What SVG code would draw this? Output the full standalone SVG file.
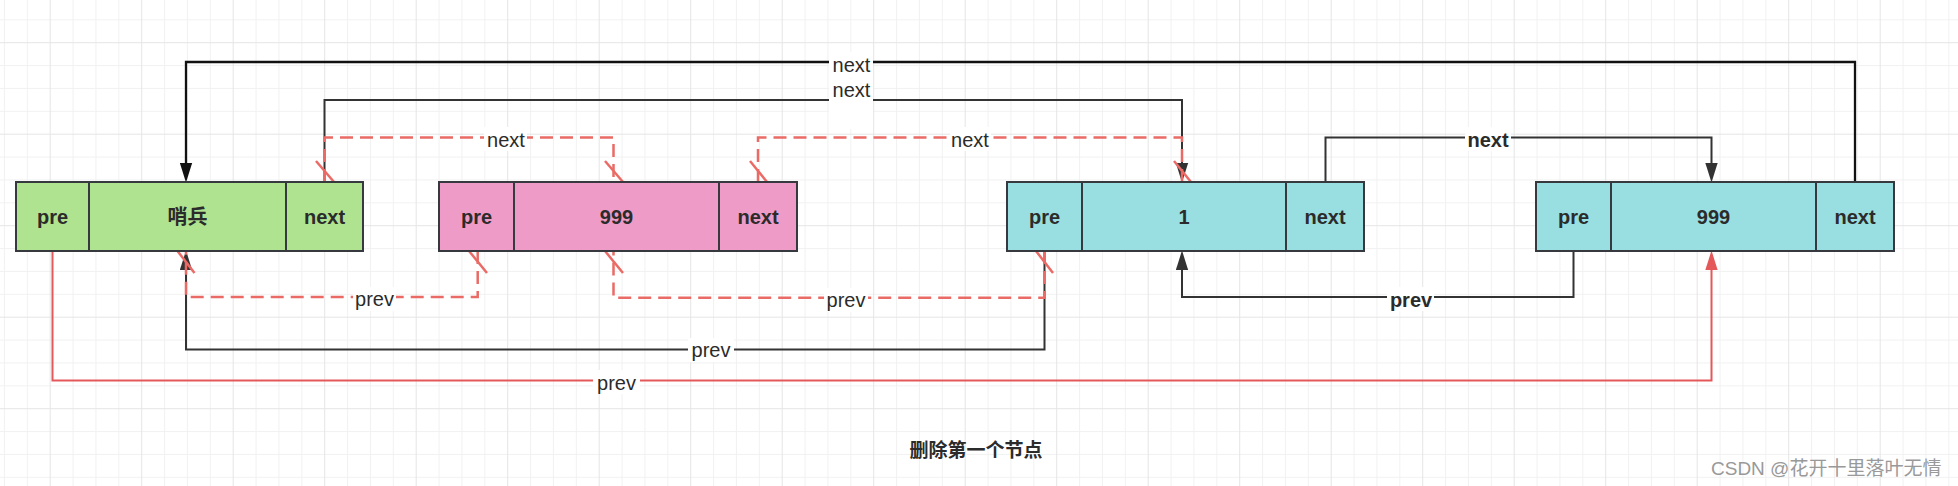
<svg xmlns="http://www.w3.org/2000/svg" width="1958" height="486" viewBox="0 0 1958 486">
<defs>
<pattern id="grid" x="49.7" y="42.2" width="91.5" height="91.5" patternUnits="userSpaceOnUse">
<path d="M23.375,0 V91.5 M46.25,0 V91.5 M69.125,0 V91.5 M0,23.375 H91.5 M0,46.25 H91.5 M0,69.125 H91.5" stroke="#f1f1f1" stroke-width="1" fill="none"/>
<path d="M0.5,0 V91.5 M0,0.5 H91.5" stroke="#e5e5e5" stroke-width="1" fill="none"/>
</pattern>
<marker id="arrDark" markerUnits="userSpaceOnUse" markerWidth="20" markerHeight="13" viewBox="0 0 19 12" refX="9" refY="6" orient="auto">
<path d="M0,0 L19,6 L0,12 Z" fill="#333"/>
</marker>
<marker id="arrBlack" markerUnits="userSpaceOnUse" markerWidth="20" markerHeight="13" viewBox="0 0 19 12" refX="9" refY="6" orient="auto">
<path d="M0,0 L19,6 L0,12 Z" fill="#111"/>
</marker>
<marker id="arrRed" markerUnits="userSpaceOnUse" markerWidth="20" markerHeight="13" viewBox="0 0 19 12" refX="9" refY="6" orient="auto">
<path d="M0,0 L19,6 L0,12 Z" fill="#e5585a"/>
</marker>
</defs>
<style>
.cell{stroke:#36393d;stroke-width:2}
.g{fill:#b0e38f}
.p{fill:#ef9bc8}
.c{fill:#99dfe1}
.bt{font-family:"Liberation Sans","Noto Sans CJK SC",sans-serif;font-size:20px;font-weight:bold;fill:#2b2b2b;text-anchor:middle}
.el{font-family:"Liberation Sans","Noto Sans CJK SC",sans-serif;font-size:20px;fill:#2b2b2b;text-anchor:middle}
.elb{font-weight:bold}
.lbg{fill:#fff}
.dark{fill:none;stroke:#333;stroke-width:2}
.black{fill:none;stroke:#111;stroke-width:2.3}
.redd{fill:none;stroke:#ea6b66;stroke-width:2.5;stroke-dasharray:13 7}
.reds{fill:none;stroke:#e5585a;stroke-width:2}
.slash{stroke:#ea6b66;stroke-width:2.5}
</style>
<rect width="1958" height="486" fill="#fff"/>
<rect width="1958" height="486" fill="url(#grid)"/>

<g id="connectors">
<path class="black" d="M1855,182 V62 H186 V172" marker-end="url(#arrBlack)"/>
<path class="dark" d="M324.5,182 V100 H1182 V172" marker-end="url(#arrDark)"/>
<path class="dark" d="M1325.5,182 V137.5 H1711.5 V172" marker-end="url(#arrDark)"/>
<path class="dark" d="M1044.5,251 V349.5 H186 V261" marker-end="url(#arrDark)"/>
<path class="dark" d="M1573.5,251 V297 H1182 V261" marker-end="url(#arrDark)"/>
<path class="reds" d="M52.5,251 V380.5 H1711.5 V261" marker-end="url(#arrRed)"/>
<path class="redd" d="M324.5,182 V137.5 H613.5 V182"/>
<path class="redd" d="M758,182 V137.5 H1182 V182"/>
<path class="redd" d="M477.7,251 V297 H186 V251"/>
<path class="redd" d="M1044.5,251 V297.7 H613.5 V251"/>
<g class="slash">
<line x1="316" y1="161" x2="334" y2="182"/>
<line x1="605" y1="161" x2="623" y2="182"/>
<line x1="750" y1="161" x2="767" y2="182"/>
<line x1="1174" y1="161" x2="1191" y2="182"/>
<line x1="469" y1="251" x2="487" y2="273"/>
<line x1="177.5" y1="251" x2="194.5" y2="273"/>
<line x1="1036" y1="251" x2="1053" y2="273"/>
<line x1="605" y1="251" x2="623" y2="273"/>
</g>
<rect class="lbg" x="829" y="52" width="44" height="26"/>
<text class="el" x="851.5" y="71.5">next</text>
<rect class="lbg" x="829" y="79" width="44" height="50"/>
<text class="el" x="851.5" y="96.5">next</text>
<rect class="lbg" x="484" y="127" width="43" height="24"/>
<text class="el" x="506" y="146.5">next</text>
<rect class="lbg" x="950" y="127" width="41" height="24"/>
<text class="el" x="970" y="146.5">next</text>
<rect class="lbg" x="1465" y="127" width="46" height="24"/>
<text class="el elb" x="1488" y="146.5">next</text>
<rect class="lbg" x="353" y="287" width="43" height="24"/>
<text class="el" x="374.5" y="305.5">prev</text>
<rect class="lbg" x="824" y="288" width="44" height="24"/>
<text class="el" x="846" y="306.5">prev</text>
<rect class="lbg" x="688" y="338" width="46" height="24"/>
<text class="el" x="711" y="356.5">prev</text>
<rect class="lbg" x="1387" y="287" width="47" height="24"/>
<text class="el elb" x="1411" y="306.5">prev</text>
<rect class="lbg" x="593" y="370" width="47" height="24"/>
<text class="el" x="616.5" y="389.5">prev</text>
</g>

<g id="node-sentinel">
<rect class="cell g" x="16" y="182" width="73" height="69"/>
<rect class="cell g" x="89" y="182" width="197" height="69"/>
<rect class="cell g" x="286" y="182" width="77" height="69"/>
<text class="bt" x="52.5" y="224">pre</text>
<text class="bt" x="187.5" y="224">哨兵</text>
<text class="bt" x="324.5" y="224">next</text>
</g>

<g id="node-999-removed">
<rect class="cell p" x="439" y="182" width="75" height="69"/>
<rect class="cell p" x="514" y="182" width="205" height="69"/>
<rect class="cell p" x="719" y="182" width="78" height="69"/>
<text class="bt" x="476.5" y="224">pre</text>
<text class="bt" x="616.5" y="224">999</text>
<text class="bt" x="758" y="224">next</text>
</g>

<g id="node-1">
<rect class="cell c" x="1007" y="182" width="75" height="69"/>
<rect class="cell c" x="1082" y="182" width="204" height="69"/>
<rect class="cell c" x="1286" y="182" width="78" height="69"/>
<text class="bt" x="1044.5" y="224">pre</text>
<text class="bt" x="1184" y="224">1</text>
<text class="bt" x="1325" y="224">next</text>
</g>

<g id="node-999">
<rect class="cell c" x="1536" y="182" width="75" height="69"/>
<rect class="cell c" x="1611" y="182" width="205" height="69"/>
<rect class="cell c" x="1816" y="182" width="78" height="69"/>
<text class="bt" x="1573.5" y="224">pre</text>
<text class="bt" x="1713.5" y="224">999</text>
<text class="bt" x="1855" y="224">next</text>
</g>

<g id="title">
<text class="bt" x="976" y="456.5" style="font-size:19px">删除第一个节点</text>
</g>
<g id="watermark">
<text x="1711" y="475" style="font-family:'Liberation Sans','Noto Sans CJK SC',sans-serif;font-size:19px;fill:#999">CSDN @花开十里落叶无情</text>
</g>
</svg>
